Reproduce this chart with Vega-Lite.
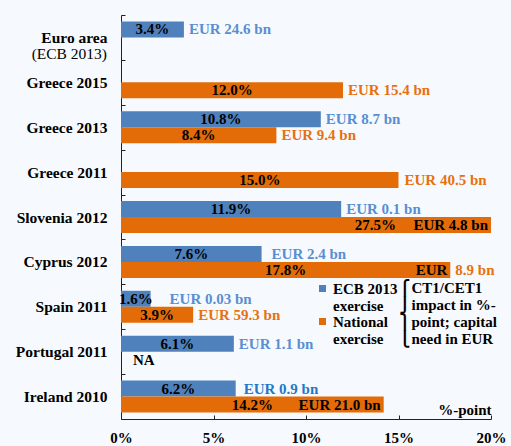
{
  "$schema": "https://vega.github.io/schema/vega-lite/v6.json",
  "width": 370,
  "height": 404,
  "autosize": {"type": "none"},
  "padding": {"left": 121, "top": 15, "right": 20, "bottom": 27},
  "background": "#F6FAFE",
  "config": {"view": {"stroke": null}, "font": "Liberation Serif"},
  "datasets": {
    "bars": [
      {"cat": "Euro area", "s": "ECB 2013 exercise", "v": 3.4},
      {"cat": "Greece 2015", "s": "National exercise", "v": 12.0},
      {"cat": "Greece 2013", "s": "ECB 2013 exercise", "v": 10.8},
      {"cat": "Greece 2013", "s": "National exercise", "v": 8.4},
      {"cat": "Greece 2011", "s": "National exercise", "v": 15.0},
      {"cat": "Slovenia 2012", "s": "ECB 2013 exercise", "v": 11.9},
      {"cat": "Slovenia 2012", "s": "National exercise", "v": 27.5},
      {"cat": "Cyprus 2012", "s": "ECB 2013 exercise", "v": 7.6},
      {"cat": "Cyprus 2012", "s": "National exercise", "v": 17.8},
      {"cat": "Spain 2011", "s": "ECB 2013 exercise", "v": 1.6},
      {"cat": "Spain 2011", "s": "National exercise", "v": 3.9},
      {"cat": "Portugal 2011", "s": "ECB 2013 exercise", "v": 6.1},
      {"cat": "Ireland 2010", "s": "ECB 2013 exercise", "v": 6.2},
      {"cat": "Ireland 2010", "s": "National exercise", "v": 14.2}
    ],
    "labels": [
      {"cat": "Euro area", "s": "ECB 2013 exercise", "v": 3.4, "t": "3.4%", "m": "pct"},
      {"cat": "Euro area", "s": "ECB 2013 exercise", "v": 3.4, "t": "EUR 24.6 bn", "m": "out"},
      {"cat": "Greece 2015", "s": "National exercise", "v": 12.0, "t": "12.0%", "m": "pct"},
      {"cat": "Greece 2015", "s": "National exercise", "v": 12.0, "t": "EUR 15.4 bn", "m": "out"},
      {"cat": "Greece 2013", "s": "ECB 2013 exercise", "v": 10.8, "t": "10.8%", "m": "pct"},
      {"cat": "Greece 2013", "s": "ECB 2013 exercise", "v": 10.8, "t": "EUR 8.7 bn", "m": "out"},
      {"cat": "Greece 2013", "s": "National exercise", "v": 8.4, "t": "8.4%", "m": "pct"},
      {"cat": "Greece 2013", "s": "National exercise", "v": 8.4, "t": "EUR 9.4 bn", "m": "out"},
      {"cat": "Greece 2011", "s": "National exercise", "v": 15.0, "t": "15.0%", "m": "pct"},
      {"cat": "Greece 2011", "s": "National exercise", "v": 15.0, "t": "EUR 40.5 bn", "m": "out"},
      {"cat": "Slovenia 2012", "s": "ECB 2013 exercise", "v": 11.9, "t": "11.9%", "m": "pct"},
      {"cat": "Slovenia 2012", "s": "ECB 2013 exercise", "v": 11.9, "t": "EUR 0.1 bn", "m": "out"},
      {"cat": "Slovenia 2012", "s": "National exercise", "v": 27.5, "t": "27.5%", "m": "pct"},
      {"cat": "Slovenia 2012", "s": "National exercise", "v": 27.5, "t": "EUR 4.8 bn", "m": "in"},
      {"cat": "Cyprus 2012", "s": "ECB 2013 exercise", "v": 7.6, "t": "7.6%", "m": "pct"},
      {"cat": "Cyprus 2012", "s": "ECB 2013 exercise", "v": 7.6, "t": "EUR 2.4 bn", "m": "out"},
      {"cat": "Cyprus 2012", "s": "National exercise", "v": 17.8, "t": "17.8%", "m": "pct"},
      {"cat": "Cyprus 2012", "s": "National exercise", "v": 17.8, "t": "EUR", "m": "in"},
      {"cat": "Cyprus 2012", "s": "National exercise", "v": 17.8, "t": "8.9 bn", "m": "out"},
      {"cat": "Spain 2011", "s": "ECB 2013 exercise", "v": 1.6, "t": "1.6%", "m": "pct"},
      {"cat": "Spain 2011", "s": "ECB 2013 exercise", "v": 1.6, "t": "EUR 0.03 bn", "m": "out"},
      {"cat": "Spain 2011", "s": "National exercise", "v": 3.9, "t": "3.9%", "m": "pct"},
      {"cat": "Spain 2011", "s": "National exercise", "v": 3.9, "t": "EUR 59.3 bn", "m": "out"},
      {"cat": "Portugal 2011", "s": "ECB 2013 exercise", "v": 6.1, "t": "6.1%", "m": "pct"},
      {"cat": "Portugal 2011", "s": "ECB 2013 exercise", "v": 6.1, "t": "EUR 1.1 bn", "m": "out"},
      {"cat": "Portugal 2011", "s": "National exercise", "v": 0, "t": "NA", "m": "na"},
      {"cat": "Ireland 2010", "s": "ECB 2013 exercise", "v": 6.2, "t": "6.2%", "m": "pct"},
      {"cat": "Ireland 2010", "s": "ECB 2013 exercise", "v": 6.2, "t": "EUR 0.9 bn", "m": "out"},
      {"cat": "Ireland 2010", "s": "National exercise", "v": 14.2, "t": "14.2%", "m": "pct"},
      {"cat": "Ireland 2010", "s": "National exercise", "v": 14.2, "t": "EUR 21.0 bn", "m": "in"}
    ]
  },
  "layer": [
    {
      "data": {"name": "bars"},
      "mark": {"type": "bar"},
      "encoding": {
        "y": {
          "field": "cat", "type": "nominal",
          "scale": {"domain": ["Euro area", "Greece 2015", "Greece 2013", "Greece 2011", "Slovenia 2012", "Cyprus 2012", "Spain 2011", "Portugal 2011", "Ireland 2010"], "paddingInner": 0, "paddingOuter": 0},
          "axis": {"title": null, "domainColor": "#222222", "tickColor": "#222222", "tickSize": -4, "tickBand": "extent", "labelFont": "Liberation Serif", "labelFontWeight": "bold", "labelFontSize": 15.5, "labelColor": "black", "labelPadding": 18, "labelLimit": 200}
        },
        "yOffset": {
          "field": "s", "type": "nominal",
          "scale": {"domain": ["ECB 2013 exercise", "National exercise"], "paddingInner": 0, "paddingOuter": 0.403}
        },
        "x": {
          "field": "v", "type": "quantitative",
          "scale": {"domain": [0, 20], "clamp": true, "nice": false},
          "axis": {"values": [0, 5, 10, 15, 20], "labelExpr": "datum.value + '%'", "labelFlush": false, "labelOverlap": false, "grid": false, "domainColor": "#222222", "tickColor": "#222222", "tickSize": -4, "labelPadding": 15, "labelFont": "Liberation Serif", "labelFontWeight": "bold", "labelFontSize": 15, "labelColor": "black", "title": "%-point", "titleFont": "Liberation Serif", "titleFontWeight": "bold", "titleFontSize": 15, "titleColor": "black", "titleAnchor": "end", "titleAlign": "right", "titleBaseline": "alphabetic", "titleY": -5}
        },
        "color": {
          "field": "s", "type": "nominal",
          "scale": {"domain": ["ECB 2013 exercise", "National exercise"], "range": ["#4F81BD", "#E36C09"]},
          "legend": {
            "orient": "none", "legendX": 194, "legendY": 266,
            "title": ["⎧\u200aCT1/CET1", "⎭\u200aimpact in %-", "⎫\u200apoint; capital", "⎩\u200aneed in EUR"],
            "titleOrient": "right", "titleFont": "Liberation Serif, DejaVu Sans", "titleFontWeight": "bold", "titleFontSize": 15, "titleColor": "black", "titleLineHeight": 17, "titleAnchor": "start", "titleBaseline": "top", "titleAlign": "left", "titlePadding": 1, "titleLimit": 300,
            "labelFont": "Liberation Serif", "labelFontWeight": "bold", "labelFontSize": 15, "labelColor": "black", "labelLimit": 200, "labelOffset": 3,
            "labelExpr": "datum.label == 'ECB 2013 exercise' ? ['ECB 2013', 'exercise'] : ['National', 'exercise']",
            "symbolType": "square", "symbolSize": 49, "symbolStrokeWidth": 0, "rowPadding": 0, "padding": 0
          }
        }
      }
    },
    {
      "data": {"name": "labels"},
      "transform": [{"filter": "datum.m == 'pct'"}, {"calculate": "datum.v / 2", "as": "mid"}],
      "mark": {"type": "text", "font": "Liberation Serif", "fontWeight": "bold", "fontSize": 15, "color": "black", "baseline": "middle", "align": "center"},
      "encoding": {
        "y": {"field": "cat", "type": "nominal"},
        "yOffset": {"field": "s", "type": "nominal"},
        "x": {"field": "mid", "type": "quantitative"},
        "text": {"field": "t"}
      }
    },
    {
      "data": {"name": "labels"},
      "transform": [{"filter": "datum.m == 'out'"}],
      "mark": {"type": "text", "font": "Liberation Serif", "fontWeight": "bold", "fontSize": 15, "baseline": "middle", "align": "left", "dx": {"expr": "datum.t == 'EUR 0.03 bn' ? 19 : datum.t == 'EUR 2.4 bn' ? 10 : datum.t == 'EUR 0.9 bn' ? 8 : datum.t == 'EUR 40.5 bn' ? 6 : 5"}},
      "encoding": {
        "y": {"field": "cat", "type": "nominal"},
        "yOffset": {"field": "s", "type": "nominal"},
        "x": {"field": "v", "type": "quantitative"},
        "text": {"field": "t"},
        "color": {"condition": [{"test": "datum.t == 'EUR 0.9 bn'", "value": "#1F78C8"}, {"test": "datum.s == 'ECB 2013 exercise'", "value": "#5A8ED2"}], "value": "#E8700F"}
      }
    },
    {
      "data": {"name": "labels"},
      "transform": [{"filter": "datum.m == 'in'"}],
      "mark": {"type": "text", "font": "Liberation Serif", "fontWeight": "bold", "fontSize": 15, "color": "black", "baseline": "middle", "align": "right", "dx": -3},
      "encoding": {
        "y": {"field": "cat", "type": "nominal"},
        "yOffset": {"field": "s", "type": "nominal"},
        "x": {"field": "v", "type": "quantitative"},
        "text": {"field": "t"}
      }
    },
    {
      "data": {"name": "labels"},
      "transform": [{"filter": "datum.m == 'na'"}],
      "mark": {"type": "text", "font": "Liberation Serif", "fontWeight": "bold", "fontSize": 15, "color": "black", "baseline": "middle", "align": "left", "dx": 12},
      "encoding": {
        "y": {"field": "cat", "type": "nominal"},
        "yOffset": {"field": "s", "type": "nominal"},
        "x": {"field": "v", "type": "quantitative"},
        "text": {"field": "t"}
      }
    },
    {
      "data": {"values": [{"cat": "Euro area", "t": "(ECB 2013)"}]},
      "mark": {"type": "text", "font": "Liberation Serif", "fontSize": 15.5, "color": "black", "baseline": "middle", "align": "right", "dx": -14, "dy": 17},
      "encoding": {
        "y": {"field": "cat", "type": "nominal"},
        "x": {"datum": 0, "type": "quantitative"},
        "text": {"field": "t"}
      }
    }
  ]
}
